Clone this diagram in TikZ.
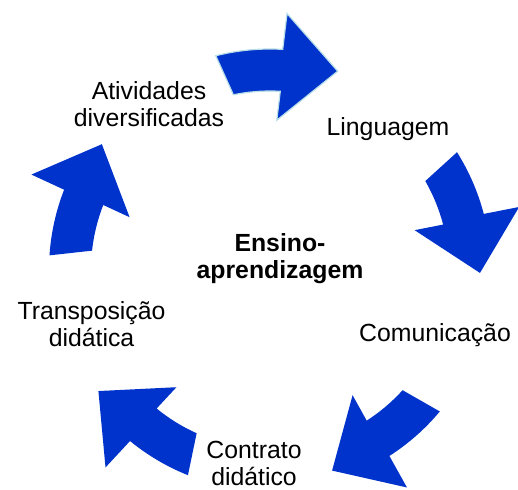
\documentclass[tikz,border=0pt]{standalone}
\usepackage{fontspec}
\setmainfont{Liberation Sans}
\definecolor{arrowblue}{RGB}{0,51,204}
\definecolor{glow}{RGB}{183,221,232}
\newcommand\cycarrow[2][]{%
  \pgfmathsetmacro\tA{#2}%
  \pgfmathsetmacro\tAo{#2+1.2}%
  \pgfmathsetmacro\tAi{#2-1.2}%
  \pgfmathsetmacro\tH{#2-16.3}%
  \pgfmathsetmacro\tHo{#2-16.8}%
  \pgfmathsetmacro\tHi{#2-15.6}%
  \pgfmathsetmacro\tT{#2-31.8}%
  \path[cycarrowstyle,#1,shift={(cc)}]
    (\tAo:221pt) arc[start angle=\tAo, end angle=\tH, radius=221pt]
    -- (\tHo:257pt) -- (\tT:210pt) -- (\tHi:150pt) -- (\tH:179pt)
    arc[start angle=\tH, end angle=\tAi, radius=179pt] -- cycle;}
\tikzset{
  cycarrowstyle/.style={fill=arrowblue},
  lbl/.style={font=\fontsize{24.8}{27}\selectfont, align=center, inner sep=0pt, anchor=base},
  ctr/.style={lbl, font=\fontsize{24.8}{27}\selectfont\bfseries}
}
\begin{document}
\begin{tikzpicture}[x=1pt,y=1pt]
\useasboundingbox (0,0) rectangle (518,489);
\coordinate (cc) at (270,219);
\cycarrow[draw=glow, line width=1.2pt]{103}
\cycarrow{31}
\cycarrow{-41}
\cycarrow{-113}
\cycarrow{175}
\node[ctr] (center) at (280,210) {Ensino-\\aprendizagem};
\node[lbl] (ling) at (388,353.3) {Linguagem};
\node[lbl] (comu) at (435,147.3) {Comunicação};
\node[lbl] (contr) at (254,4) {Contrato\\didático};
\node[lbl] (trans) at (91.5,142.3) {Transposição\\didática};
\node[lbl] (ativ) at (149,362.7) {Atividades\\diversificadas};
\end{tikzpicture}
\end{document}
